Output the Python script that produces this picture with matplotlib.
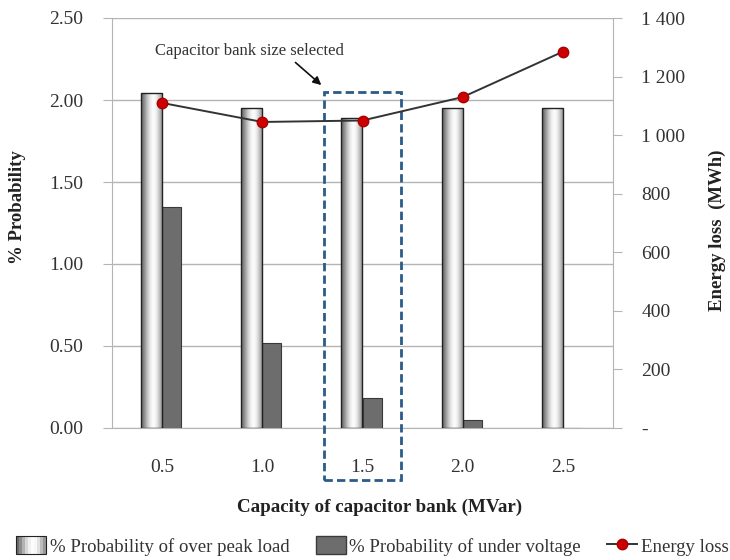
import matplotlib
matplotlib.use("Agg")
import matplotlib.pyplot as plt
import numpy as np
from matplotlib.patches import Rectangle
from matplotlib.legend_handler import HandlerPatch
from matplotlib.lines import Line2D

plt.rcParams['font.family'] = ['Liberation Serif', 'DejaVu Serif']

capacity = ['0.5', '1.0', '1.5', '2.0', '2.5']
peak_load = [2.04, 1.95, 1.89, 1.95, 1.95]
under_voltage = [1.35, 0.52, 0.18, 0.05, 0.0]
energy_loss = [1110, 1045, 1050, 1130, 1285]
right_ticks = [0, 200, 400, 600, 800, 1000, 1200, 1400]
right_labels = ['-', '200', '400', '600', '800', '1 000', '1 200', '1 400']

# cylinder-ish shading for the light bars
shade = np.array([0.42, 0.55, 0.7, 0.84, 0.94, 0.99, 0.97, 0.88, 0.74, 0.6])
grey_cmap = plt.get_cmap('gray')

fig = plt.figure(figsize=(7.3, 5.6), dpi=100)
ax = fig.add_axes([112/730, 132/560, 501/730, 410/560])
ax2 = ax.twinx()

x = np.arange(len(capacity)) + 0.5
w1 = 0.21
w2 = 0.19

for xi, h in zip(x, peak_load):
    ax.imshow(shade[np.newaxis, :], cmap=grey_cmap, vmin=0, vmax=1, aspect='auto',
              extent=(xi - w1, xi, 0, h), zorder=2, interpolation='bicubic')
    ax.add_patch(Rectangle((xi - w1, 0), w1, h, facecolor='none',
                           edgecolor='#222222', lw=1.0, zorder=3))
ax.bar(x + w2/2, under_voltage, w2, color='#6d6d6d', edgecolor='#3a3a3a', lw=0.8, zorder=2)

ax.set_xlim(0, 5)
ax.set_ylim(0, 2.5)
ax.set_yticks(np.arange(0, 2.51, 0.5))
ax.set_yticklabels(['%.2f' % v for v in np.arange(0, 2.51, 0.5)])
ax.set_xticks(x)
ax.set_xticklabels(capacity)
ax.grid(axis='y', color='#b4b4b4', lw=1.0, zorder=0)
ax.set_axisbelow(True)
ax.tick_params(axis='y', length=6.5, color='#b4b4b4', pad=14, labelsize=14, labelcolor='#333333')
ax.tick_params(axis='x', length=0, pad=22, labelsize=14, labelcolor='#333333')
for s in ['top', 'right']:
    ax.spines[s].set_visible(False)
ax.spines['left'].set_color('#b4b4b4')
ax.spines['bottom'].set_color('#b4b4b4')

ax2.plot(x, energy_loss, color='#333333', lw=1.4, marker='o', markersize=7.5,
         markerfacecolor='#cc0000', markeredgecolor='#aa0000', zorder=5)
ax2.set_ylim(0, 1400)
ax2.set_yticks(right_ticks)
ax2.set_yticklabels(right_labels)
ax2.tick_params(axis='y', length=6.5, color='#b4b4b4', pad=14, labelsize=14, labelcolor='#333333')
for s in ['top', 'left', 'bottom']:
    ax2.spines[s].set_visible(False)
ax2.spines['right'].set_color('#b4b4b4')

# selected capacitor bank
ax.add_patch(Rectangle((2.12, -0.317), 0.76, 2.367, facecolor='none', edgecolor='#2d5b88',
                       lw=2.0, ls=(0, (3, 1.5)), clip_on=False, zorder=6))
ax.text(0.43, 2.30, 'Capacitor bank size selected', fontsize=12, color='#333333',
        va='center', ha='left')
ax.annotate('', xy=(2.11, 2.08), xytext=(1.81, 2.24),
            arrowprops=dict(arrowstyle='-|>', color='#111111', lw=1.2, mutation_scale=12))

fig.text(18/730, 1 - 207/560, '% Probability', rotation=90, fontsize=13.5, fontweight='bold',
         ha='center', va='center', color='#222222')
fig.text(717/730, 1 - 230/560, 'Energy loss  (MWh)', rotation=90, fontsize=13.5, fontweight='bold',
         ha='center', va='center', color='#222222')
fig.text(380/730, 1 - 507/560, 'Capacity of capacitor bank (MVar)', fontsize=13.7,
         fontweight='bold', ha='center', va='center', color='#222222')


class GradientHandler(HandlerPatch):
    def create_artists(self, legend, orig_handle, xdescent, ydescent, width, height, fontsize, trans):
        arts = []
        n = len(shade)
        for i, v in enumerate(shade):
            arts.append(Rectangle((-xdescent + width * i / n, -ydescent), width / n, height,
                                  facecolor=grey_cmap(v), edgecolor='none', transform=trans))
        arts.append(Rectangle((-xdescent, -ydescent), width, height, facecolor='none',
                              edgecolor='#222222', lw=0.8, transform=trans))
        return arts


h1 = Rectangle((0, 0), 1, 1)
h2 = Rectangle((0, 0), 1, 1, facecolor='#6d6d6d', edgecolor='#3a3a3a')
h3 = Line2D([], [], color='#333333', lw=1.4, marker='o', markersize=7.5,
            markerfacecolor='#cc0000', markeredgecolor='#aa0000')
fig.legend([h1, h2, h3],
           ['% Probability of over peak load', '% Probability of under voltage', 'Energy loss'],
           handler_map={h1: GradientHandler()}, loc='center', bbox_to_anchor=(0.51, 1 - 546/560),
           ncol=3, frameon=False, fontsize=13.5, handlelength=1.6, handleheight=1.1,
           handletextpad=0.2, columnspacing=1.4, labelcolor='#333333',
           borderaxespad=0, borderpad=0)

fig.savefig('out.png', dpi=100)
